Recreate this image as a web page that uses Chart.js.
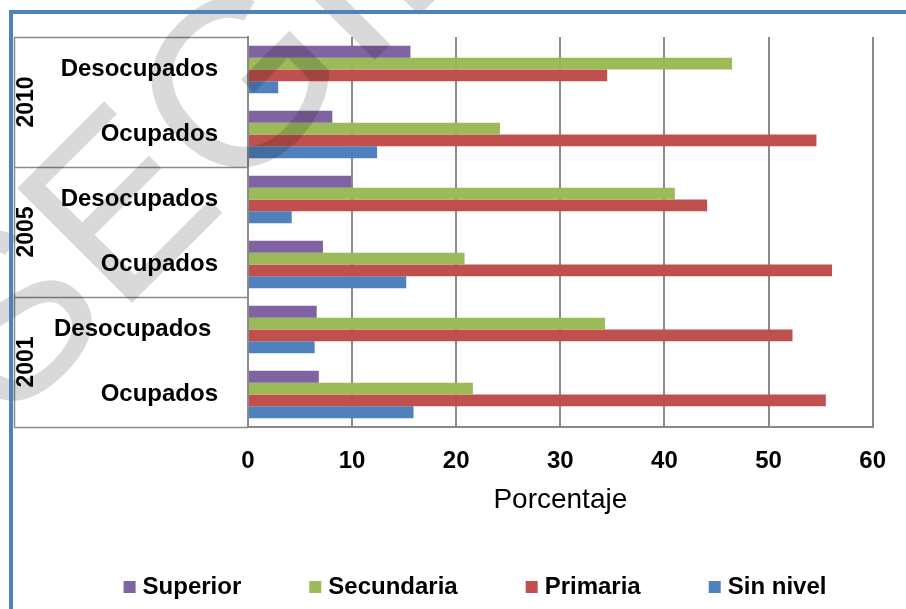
<!DOCTYPE html>
<html>
<head>
<meta charset="utf-8">
<script src="https://cdn.jsdelivr.net/npm/chart.js@4.4.0/dist/chart.umd.min.js"></script>
<style>
html, body { margin: 0; padding: 0; background: #fff; }
#wrap { width: 906px; height: 609px; }
</style>
</head>
<body>
<div id="wrap"><canvas id="chart" width="906" height="609"></canvas></div>
<script>
// Data (percent)
const categories = ['Desocupados', 'Ocupados', 'Desocupados', 'Ocupados', 'Desocupados ', 'Ocupados'];
const years = ['2010', '2005', '2001'];
const superior = [15.6, 8.1, 9.9, 7.2, 6.6, 6.8];
const secundaria = [46.5, 24.2, 41.0, 20.8, 34.3, 21.6];
const primaria = [34.5, 54.6, 44.1, 56.1, 52.3, 55.5];
const sinNivel = [2.9, 12.4, 4.2, 15.2, 6.4, 15.9];
const xTicks = [0, 10, 20, 30, 40, 50, 60];
const seriesNames = ['Superior', 'Secundaria', 'Primaria', 'Sin nivel'];

const FONT = "'Liberation Sans', Arial, sans-serif";
const GRID = '#8a8a8a';
const colors = ['#8064a2', '#9bbb59', '#c0504d', '#4f81bd'];
const values = [superior, secundaria, primaria, sinNivel];

// year column and outer box on the left of the plot
const yearBox = {
    id: 'yearBox',
    afterDraw(chart) {
        const ctx = chart.ctx;
        const y = chart.scales.y;
        const left = 14, right = chart.chartArea.left;
        ctx.save();
        ctx.strokeStyle = GRID;
        ctx.lineWidth = 1.5;
        ctx.beginPath();
        for (let i = 0; i <= years.length; i++) {
            const py = Math.round(y.getPixelForValue(i * 2 - 0.5)) + 0.5;
            ctx.moveTo(left, py);
            ctx.lineTo(right, py);
        }
        ctx.moveTo(left + 0.5, y.getPixelForValue(-0.5));
        ctx.lineTo(left + 0.5, y.getPixelForValue(5.5));
        ctx.stroke();

        ctx.fillStyle = '#000';
        ctx.font = 'bold 23px ' + FONT;
        ctx.textAlign = 'center';
        ctx.textBaseline = 'middle';
        years.forEach((yr, i) => {
            const cy = (y.getPixelForValue(i * 2 - 0.5) + y.getPixelForValue(i * 2 + 1.5)) / 2;
            ctx.save();
            ctx.translate(27, cy);
            ctx.rotate(-Math.PI / 2);
            ctx.fillText(yr, 0, 0);
            ctx.restore();
        });
        ctx.restore();
    }
};

// legend in one row, like the original
const bottomLegend = {
    id: 'bottomLegend',
    afterDraw(chart) {
        const ctx = chart.ctx;
        ctx.save();
        ctx.font = 'bold 24px ' + FONT;
        ctx.textBaseline = 'middle';
        ctx.textAlign = 'left';
        const box = 12, gapText = 7, gapItem = 68;
        const widths = seriesNames.map(n => ctx.measureText(n).width);
        const total = widths.reduce((s, w) => s + box + gapText + w, 0) + gapItem * (seriesNames.length - 1);
        let x = 475 - total / 2;
        const cy = 587;
        seriesNames.forEach((n, i) => {
            ctx.fillStyle = colors[i];
            ctx.fillRect(x, cy - 6, box, box);
            ctx.fillStyle = '#000';
            ctx.fillText(n, x + box + gapText, cy);
            x += box + gapText + widths[i] + gapItem;
        });
        ctx.restore();
    }
};

// faint watermark and the blue frame
const overlay = {
    id: 'overlay',
    afterDraw(chart) {
        const ctx = chart.ctx;
        ctx.save();
        ctx.translate(7, 428);
        ctx.rotate(-Math.PI / 4);
        ctx.fillStyle = 'rgba(0,0,0,0.15)';
        ctx.font = '236px ' + FONT;
        ctx.textAlign = 'left';
        ctx.textBaseline = 'alphabetic';
        ctx.fillText('SEGIB', 0, 0);
        ctx.restore();

        ctx.save();
        ctx.strokeStyle = '#4f81bd';
        ctx.lineWidth = 4;
        ctx.beginPath();
        ctx.moveTo(11, 609);
        ctx.lineTo(11, 12);
        ctx.lineTo(906, 12);
        ctx.stroke();
        ctx.restore();
    }
};

new Chart(document.getElementById('chart'), {
    type: 'bar',
    data: {
        labels: categories,
        datasets: seriesNames.map((name, i) => ({
            label: name,
            data: values[i],
            backgroundColor: colors[i],
            borderWidth: 0,
            categoryPercentage: 0.73,
            barPercentage: 1.0
        }))
    },
    options: {
        indexAxis: 'y',
        responsive: false,
        animation: false,
        layout: { padding: { left: 0, right: 32, top: 37, bottom: 0 } },
        plugins: {
            tooltip: { enabled: false },
            legend: { display: false }
        },
        scales: {
            x: {
                min: 0,
                max: 60,
                afterBuildTicks(scale) { scale.ticks = xTicks.map(v => ({ value: v })); },
                afterFit(scale) { scale.height = 182; },
                grid: { color: GRID, lineWidth: 2, drawTicks: false },
                border: { color: GRID, width: 2 },
                ticks: {
                    color: '#000',
                    padding: 20,
                    font: { family: FONT, size: 24, weight: 'bold' }
                },
                title: {
                    display: true,
                    text: 'Porcentaje',
                    color: '#000',
                    font: { family: FONT, size: 28 },
                    padding: { top: 0, bottom: 92 }
                }
            },
            y: {
                afterFit(scale) { scale.width = 248; },
                grid: { display: false },
                border: { color: GRID, width: 2 },
                ticks: {
                    color: '#000',
                    padding: 22,
                    font: { family: FONT, size: 24, weight: 'bold' }
                }
            }
        }
    },
    plugins: [yearBox, bottomLegend, overlay]
});
</script>
</body>
</html>
